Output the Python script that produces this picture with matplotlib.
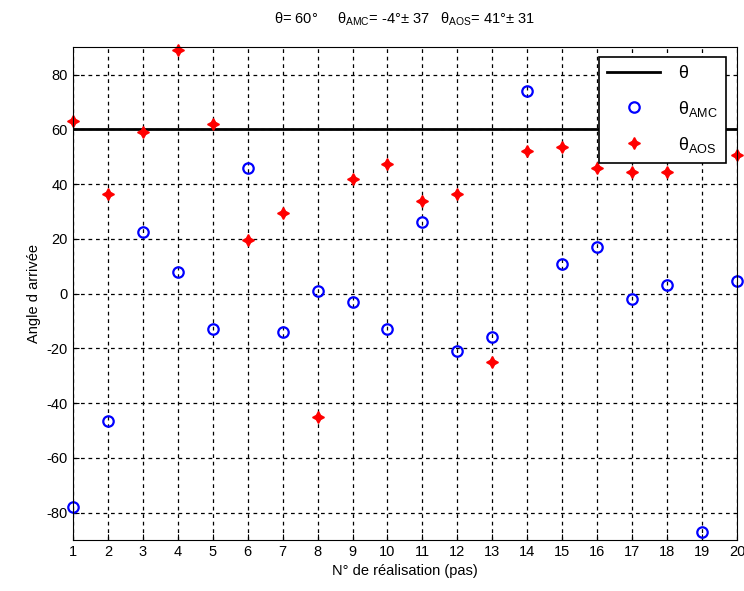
import numpy as np
import matplotlib.pyplot as plt

###data###
theta = 60
realisation = np.arange(1, 21)
theta_amc = [-78, -46.5, 22.5, 8, -13, 46, -14, 1, -3, -13,
             26, -21, -16, 74, 11, 17, -2, 3, -87, 4.5]
theta_aos = [63, 36.5, 59, 89, 62, 19.5, 29.5, -45, 42, 47.5,
             34, 36.5, -25, 52, 53.5, 46, 44.5, 44.5, 80, 50.5]

plt.rcParams['font.family'] = ['Liberation Sans', 'DejaVu Sans']
plt.rcParams['mathtext.fontset'] = 'custom'
plt.rcParams['mathtext.rm'] = 'Liberation Sans'
plt.rcParams['mathtext.it'] = 'Liberation Sans'
plt.rcParams['mathtext.default'] = 'regular'
plt.rcParams['axes.unicode_minus'] = False

fig = plt.figure(figsize=(7.44, 5.91), dpi=100)
ax = fig.add_axes([0.098, 0.0863, 0.8926, 0.8337])

ax.plot(realisation, np.full(len(realisation), theta), 'k-', lw=2, label=r'$\theta$')
ax.plot(realisation, theta_amc, 'o', ls='none', mfc='none', mec='blue', mew=1.6,
        ms=7.5, label=r'$\theta_{AMC}$', clip_on=False)
ax.plot(realisation, theta_aos, marker=(4, 1, 0), ls='none', color='red', ms=8.5,
        label=r'$\theta_{AOS}$', clip_on=False)

ax.set_xlim(1, 20)
ax.set_ylim(-90, 90)
ax.set_xticks(realisation)
ax.set_yticks(np.arange(-80, 81, 20))
ax.tick_params(direction='in', labelsize=10.5, length=4)
ax.grid(True, color='black', linestyle=(0, (3, 3)), linewidth=0.9)
ax.set_xlabel('N° de réalisation (pas)', fontsize=10.5)
ax.set_ylabel("Angle d arrivée", fontsize=10.5)

ax.set_title(r'$\theta$= 60°     $\theta_{AMC}$= -4°± 37   $\theta_{AOS}$= 41°± 31',
             fontsize=10.5, pad=17)

leg = ax.legend(loc='upper right', bbox_to_anchor=(0.983, 0.98), borderaxespad=0,
                fancybox=False, edgecolor='black', framealpha=1, fontsize=13,
                borderpad=0.45, labelspacing=0.9, handlelength=2.9, handletextpad=1.0)
leg.get_frame().set_linewidth(1.2)

fig.savefig('out.png', dpi=100)
